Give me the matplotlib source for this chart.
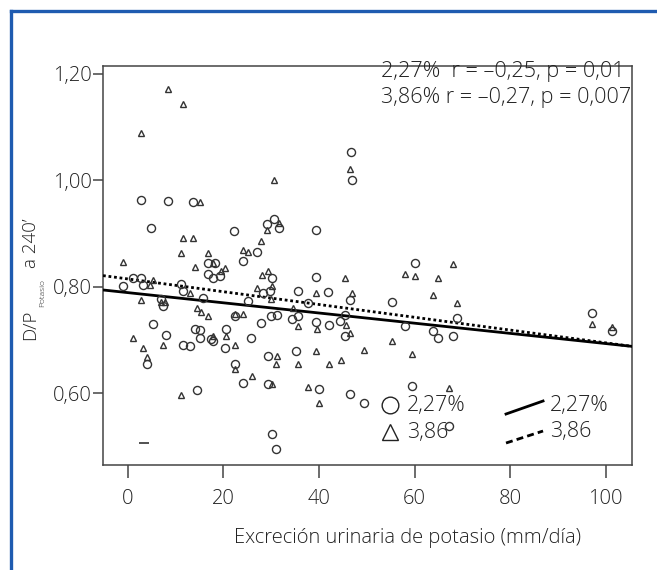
import matplotlib
matplotlib.use("Agg")
import matplotlib.pyplot as plt
from matplotlib.lines import Line2D

plt.rcParams['font.family'] = ['Open Sans', 'DejaVu Sans']
plt.rcParams['font.weight'] = 'light'
plt.rcParams['axes.labelweight'] = 'light'

# ---- data ----
circ_x = [46.7, 47.0, 2.7, 8.4, 13.6, 4.8, 22.2, 39.3, 29.2, 30.5, 31.6, 27.0,
          -1.0, 1.1, 2.7, 3.2, 11.2, 11.6, 7.0, 7.4, 15.7, 16.8, 18.2, 19.2, 16.8, 17.8,
          24.1, 30.2, 28.3, 29.7, 25.1, 35.6, 39.3, 41.9, 37.7, 35.5, 30.0, 31.3, 34.4,
          27.8, 22.4, 5.3, 7.9, 11.6, 13.1, 14.0, 15.0, 15.0, 17.5, 17.8, 20.6, 20.3,
          25.7, 29.3, 35.1, 39.4, 42.1, 3.9, 22.5, 24.1, 29.3, 14.4, 40.0, 30.2, 30.9,
          46.4, 45.5, 44.3, 45.5, 60.1, 55.2, 57.9, 63.8, 64.8, 68.0, 68.8, 97.1, 101.4,
          46.4, 49.5, 59.5, 67.3]
circ_y = [1.054, 1.001, 0.963, 0.962, 0.960, 0.910, 0.905, 0.907, 0.918, 0.927, 0.911, 0.865,
          0.802, 0.817, 0.817, 0.804, 0.806, 0.793, 0.777, 0.763, 0.779, 0.845, 0.844, 0.821,
          0.824, 0.816, 0.849, 0.816, 0.789, 0.793, 0.774, 0.793, 0.819, 0.791, 0.769, 0.746,
          0.746, 0.747, 0.740, 0.731, 0.746, 0.730, 0.710, 0.691, 0.688, 0.721, 0.718, 0.703,
          0.702, 0.699, 0.720, 0.684, 0.703, 0.670, 0.679, 0.733, 0.729, 0.654, 0.654, 0.619,
          0.617, 0.606, 0.607, 0.523, 0.495,
          0.776, 0.747, 0.735, 0.708, 0.845, 0.772, 0.727, 0.716, 0.703, 0.707, 0.741, 0.751,
          0.716, 0.599, 0.581, 0.613, 0.539]

tri_x = [8.4, 11.6, 2.7, 30.5, 46.5, 15.0, 31.6, 29.2, 27.8, 11.6, 13.6, 11.1, 16.8, 24.0, 25.1,
         -1.0, 14.0, 17.8, 19.4, 20.3, 5.3, 4.7, 13.1, 2.7, 7.7, 6.9, 14.4, 15.4, 16.8, 22.4,
         24.1, 28.1, 29.3, 27.0, 30.2, 30.0, 34.6, 35.5, 39.3, 39.6, 1.1, 7.4, 3.2, 3.9, 17.8,
         20.6, 22.5, 31.3, 30.9, 35.6, 39.3, 42.0, 22.4, 25.9, 30.2, 37.7, 40.0, 11.1,
         45.5, 47.0, 45.6, 46.5, 49.5, 44.5, 58.0, 60.1, 65.0, 68.0, 63.8, 68.8, 55.2, 59.5,
         67.3, 97.1, 101.4]
tri_y = [1.171, 1.143, 1.090, 1.001, 1.022, 0.959, 0.919, 0.906, 0.887, 0.892, 0.892, 0.864,
         0.864, 0.869, 0.865,
         0.847, 0.838, 0.844, 0.830, 0.835, 0.8125, 0.804, 0.788, 0.775, 0.771, 0.771, 0.761,
         0.752, 0.746, 0.749, 0.748, 0.822, 0.829, 0.798, 0.802, 0.777, 0.761, 0.726, 0.789,
         0.721, 0.703, 0.691, 0.684, 0.668, 0.707, 0.707, 0.690, 0.669, 0.654, 0.654, 0.679,
         0.654, 0.646, 0.632, 0.618, 0.612, 0.581, 0.596,
         0.816, 0.789, 0.729, 0.713, 0.682, 0.663, 0.824, 0.821, 0.816, 0.842, 0.784, 0.770,
         0.699, 0.673, 0.610, 0.730, 0.725]

dash_x = [3.4]
dash_y = [0.507]

fit_x = [-5.2, 105.5]
fit227_y = [0.794, 0.688]
fit386_y = [0.821, 0.688]

x_ticks = [0, 20, 40, 60, 80, 100]
x_ticklabels = ['0', '20', '40', '60', '80', '100']
y_ticks = [0.60, 0.80, 1.00, 1.20]
y_ticklabels = ['0,60', '0,80', '1,00', '1,20']

stats_lines = ['2,27%  r = \u20130,25, p = 0,01', '3,86% r = \u20130,27, p = 0,007']
legend_labels = ['2,27%', '3,86']
ylabel_parts = ['D/P', 'Potasio', 'a 240\u2019']
xlabel = 'Excreción urinaria de potasio (mm/día)'

# ---- figure ----
W, H = 657, 570
txt = '#222222'
fig = plt.figure(figsize=(W / 100, H / 100), dpi=100)
ax = fig.add_axes([0.1568, 0.1842, 0.8052, 0.7000])


def fx(px):
    return px / W


def fy(py):
    return 1 - py / H


# blue frame
blue = '#1f5bb0'
fig.add_artist(Line2D([fx(11), 1.0], [fy(11), fy(11)], color=blue, lw=2.4,
                      transform=fig.transFigure))
fig.add_artist(Line2D([fx(11), fx(11)], [0.0, fy(11)], color=blue, lw=2.4,
                      transform=fig.transFigure))

ax.plot(fit_x, fit227_y, color='black', lw=2.0, solid_capstyle='butt', zorder=3)
ax.plot(fit_x, fit386_y, color='black', lw=2.0, ls=(0, (1, 1)), zorder=3)

ax.plot(circ_x, circ_y, ls='none', marker='o', ms=5.8, mfc='none', mec='#333333',
        mew=1.0, zorder=4)
ax.plot(tri_x, tri_y, ls='none', marker='^', ms=4.6, mfc='none', mec='#333333',
        mew=1.0, zorder=4)
ax.plot(dash_x, dash_y, ls='none', marker='_', ms=7, mec='#333333', mew=1.2, zorder=4)

ax.set_xlim(-5.2, 105.5)
ax.set_ylim(0.465, 1.215)
ax.set_xticks(x_ticks)
ax.set_xticklabels(x_ticklabels)
ax.set_yticks(y_ticks)
ax.set_yticklabels(y_ticklabels)

for s in ax.spines.values():
    s.set_color('#444444')
    s.set_linewidth(1.1)
ax.tick_params(axis='x', direction='out', length=9, width=1.1, color='#444444',
               labelsize=14.5, labelcolor=txt, pad=8)
ax.tick_params(axis='y', direction='out', length=7, width=1.1, color='#444444',
               labelsize=14.5, labelcolor=txt, pad=1)

ax.set_xlabel(xlabel, fontsize=14.5, color=txt)
ax.xaxis.set_label_coords(0.575, -0.183)
ax.xaxis.label.set_va('center')

# y label (main text with a small subscript), rotated
fig.text(fx(35.5), fy(340), ylabel_parts[0], rotation=90, rotation_mode='anchor',
         ha='left', va='baseline', fontsize=13.5, color=txt)
fig.text(fx(44.5), fy(307), ylabel_parts[1], rotation=90, rotation_mode='anchor',
         ha='left', va='baseline', fontsize=6, color=txt)
fig.text(fx(35.5), fy(268), ylabel_parts[2], rotation=90, rotation_mode='anchor',
         ha='left', va='baseline', fontsize=13.5, color=txt)

ax.text(0.5246, 0.9857, stats_lines[0], transform=ax.transAxes, fontsize=15.6,
        color=txt, ha='left', va='center')
ax.text(0.5246, 0.9206, stats_lines[1], transform=ax.transAxes, fontsize=15.6,
        color=txt, ha='left', va='center', clip_on=True)

# legend drawn by hand
ax.plot([0.5425], [0.150], transform=ax.transAxes, marker='o', ms=12, mfc='none',
        mec='#222222', mew=1.0, ls='none')
ax.plot([0.5425], [0.0827], transform=ax.transAxes, marker='^', ms=12, mfc='none',
        mec='#222222', mew=1.0, ls='none')
ax.text(0.5747, 0.150, legend_labels[0], transform=ax.transAxes, fontsize=15.5,
        color=txt, va='center', ha='left')
ax.text(0.5747, 0.0827, legend_labels[1], transform=ax.transAxes, fontsize=15.5,
        color=txt, va='center', ha='left')
ax.plot([0.7618, 0.8318], [0.1278, 0.1604], transform=ax.transAxes, color='black',
        lw=2.0)
ax.plot([0.7618, 0.8318], [0.0551, 0.0852], transform=ax.transAxes, color='black',
        lw=2.0, ls=(0, (2.5, 1.5)))
ax.text(0.845, 0.150, legend_labels[0], transform=ax.transAxes, fontsize=15.5,
        color=txt, va='center', ha='left')
ax.text(0.845, 0.0852, legend_labels[1], transform=ax.transAxes, fontsize=15.5,
        color=txt, va='center', ha='left')

fig.savefig('out.png', dpi=100)
